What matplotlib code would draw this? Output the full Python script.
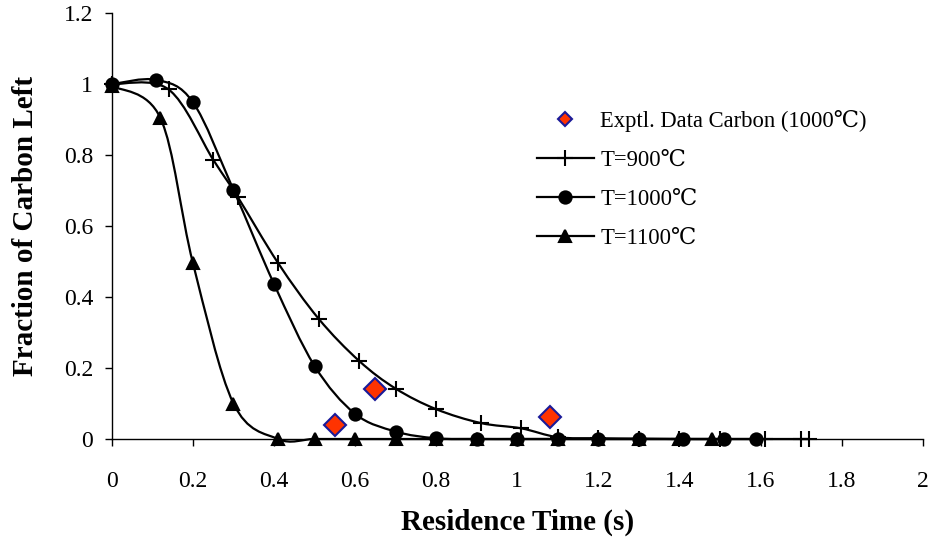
import matplotlib
matplotlib.use("Agg")
import matplotlib.pyplot as plt
import numpy as np
from matplotlib.path import Path
from matplotlib.patches import PathPatch
from matplotlib.lines import Line2D

plt.rcParams['font.family'] = ['Liberation Serif', 'DejaVu Serif']

# model curves, fraction of carbon left vs residence time
t_900 = [0, 0.14, 0.25, 0.31, 0.41, 0.51, 0.61, 0.70, 0.80, 0.91, 1.01, 1.10,
         1.20, 1.30, 1.40, 1.50, 1.61, 1.70, 1.72]
c_900 = [1.0, 0.985, 0.787, 0.683, 0.496, 0.339, 0.22, 0.142, 0.084, 0.045,
         0.03, 0.005, 0.002, 0.001, 0, 0, 0, 0, 0]

t_1000 = [0, 0.11, 0.20, 0.30, 0.40, 0.50, 0.60, 0.70, 0.80, 0.90, 1.00, 1.10,
          1.20, 1.30, 1.41, 1.51, 1.59]
c_1000 = [1.0, 1.012, 0.949, 0.702, 0.437, 0.206, 0.071, 0.021, 0.002, 0, 0,
          0, 0, 0, 0, 0, 0]

t_1100 = [0, 0.12, 0.20, 0.30, 0.41, 0.50, 0.60, 0.70, 0.80, 0.90, 1.00, 1.10,
          1.20, 1.30, 1.40, 1.48]
c_1100 = [0.995, 0.904, 0.496, 0.10, 0, 0, 0, 0, 0, 0, 0, 0, 0, 0, 0, 0]

# experimental points at 1000 C
t_exp = [0.55, 0.65, 1.08]
c_exp = [0.04, 0.142, 0.062]


def smooth_path(x, y):
    # cubic bezier through the points (catmull-rom style tangents)
    p = np.column_stack([x, y]).astype(float)
    ext = np.vstack([p[0], p, p[-1]])
    verts = [p[0]]
    codes = [Path.MOVETO]
    for i in range(1, len(ext) - 2):
        p0, p1, p2, p3 = ext[i - 1], ext[i], ext[i + 1], ext[i + 2]
        verts += [p1 + (p2 - p0) / 6, p2 - (p3 - p1) / 6, p2]
        codes += [Path.CURVE4] * 3
    return Path(verts, codes)


fig = plt.figure(figsize=(9.32, 5.37), dpi=100)
ax = fig.add_axes([0.120, 0.1825, 0.870, 0.793])

series = [(t_900, c_900, '+', 12, 'T=900\u2103'),
          (t_1000, c_1000, 'o', 8.8, 'T=1000\u2103'),
          (t_1100, c_1100, '^', 9.2, 'T=1100\u2103')]

handles = []
for t, c, m, ms, lab in series:
    ax.add_patch(PathPatch(smooth_path(t, c), fill=False, lw=1.6,
                           edgecolor='black', zorder=2, clip_on=False))
    ax.plot(t, c, linestyle='none', marker=m, ms=ms, color='black',
            mew=1.5, zorder=3, clip_on=False)
    handles.append(Line2D([], [], color='black', lw=1.6, marker=m, ms=ms,
                          mew=1.5, label=lab))

ax.plot(t_exp, c_exp, linestyle='none', marker='D', ms=11,
        markerfacecolor='#ff3300', markeredgecolor='#1a1a99', mew=1.5,
        zorder=4, clip_on=False)
exp_handle = Line2D([], [], linestyle='none', marker='D', ms=7,
                    markerfacecolor='#ff3300', markeredgecolor='#1a1a99',
                    mew=1.5, label='Exptl. Data Carbon (1000\u2103)')

ax.set_xlim(0, 2)
ax.set_ylim(0, 1.2)
ax.set_xticks(np.arange(0, 2.01, 0.2))
ax.set_yticks(np.arange(0, 1.21, 0.2))
ax.set_xticklabels(['0', '0.2', '0.4', '0.6', '0.8', '1', '1.2', '1.4',
                    '1.6', '1.8', '2'])
ax.set_yticklabels(['0', '0.2', '0.4', '0.6', '0.8', '1', '1.2'])
ax.spines['top'].set_visible(False)
ax.spines['right'].set_visible(False)
for s in ('left', 'bottom'):
    ax.spines[s].set_linewidth(1.0)
ax.tick_params(axis='both', direction='out', length=5, width=1,
               labelsize=17)
ax.tick_params(axis='x', pad=18)
ax.tick_params(axis='y', pad=8.5)

ax.set_xlabel('Residence Time (s)', fontsize=21, fontweight='bold',
              labelpad=12)
ax.set_ylabel('Fraction of Carbon Left', fontsize=21, fontweight='bold',
              labelpad=18)

fig.legend(handles=[exp_handle] + handles, loc='upper left',
           bbox_to_anchor=(537 / 932, 1 - 110 / 537), frameon=False,
           fontsize=16.3, handlelength=2.5, handletextpad=0.3,
           labelspacing=0.8, borderpad=0, borderaxespad=0)

fig.savefig('out.png', dpi=100)
